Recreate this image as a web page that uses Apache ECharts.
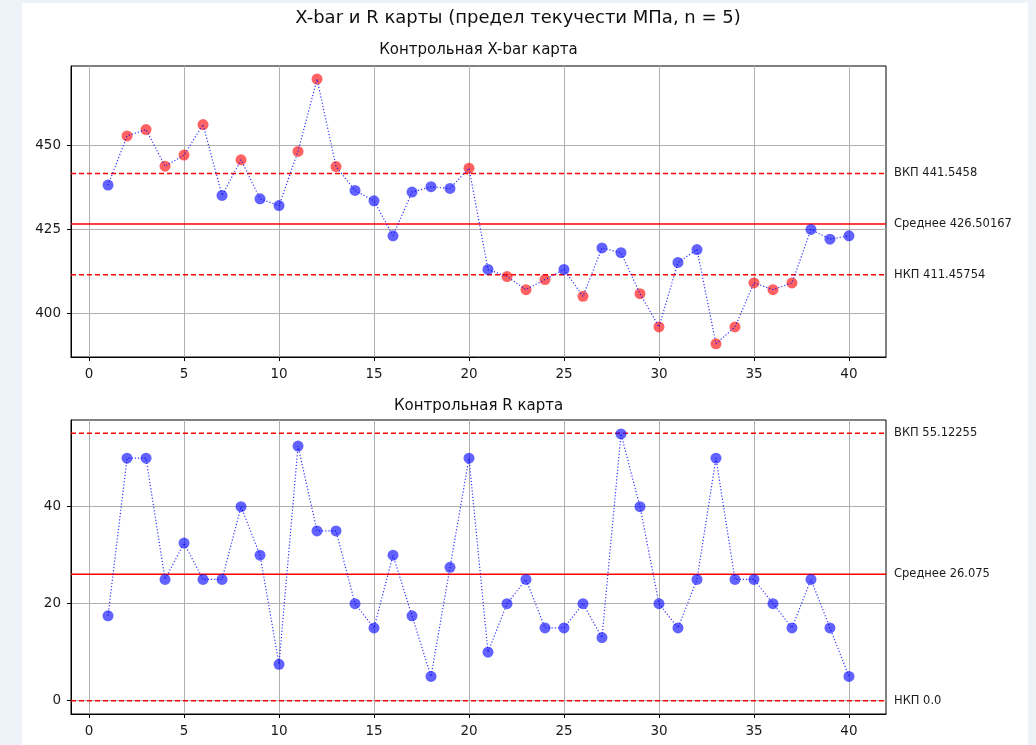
<!DOCTYPE html>
<html>
<head>
<meta charset="utf-8">
<script src="https://cdn.jsdelivr.net/npm/echarts@6/dist/echarts.min.js"></script>
<style>
html,body{margin:0;padding:0;width:1036px;height:745px;background:#eef3fa;overflow:hidden;}
#c{position:absolute;left:22px;top:3px;width:1006px;height:742px;background:#fff;}
</style>
</head>
<body>
<div id="c"></div>
<script>
// ---- data ----
const samples = [1,2,3,4,5,6,7,8,9,10,11,12,13,14,15,16,17,18,19,20,21,22,23,24,25,26,27,28,29,30,31,32,33,34,35,36,37,38,39,40];
const xbarValues = [438.1,452.7,454.6,443.7,447.0,456.1,435.0,445.6,434.0,432.0,
                    448.1,469.6,443.6,436.5,433.4,423.0,436.0,437.6,437.1,443.1,
                    413.0,410.9,407.0,410.0,413.0,405.0,419.4,418.0,405.8,395.9,
                    415.1,418.9,390.9,395.9,409.0,407.0,409.0,424.9,422.0,423.0];
const rangeValues = [17.5,50,50,25,32.5,25,25,40,30,7.5,
                     52.5,35,35,20,15,30,17.5,5,27.5,50,
                     10,20,25,15,15,20,13,55,40,20,
                     15,25,50,25,25,20,15,25,15,5];
const xbarUCL = 441.5458, xbarMean = 426.50167, xbarLCL = 411.45754;
const rUCL = 55.12255, rMean = 26.075, rLCL = 0.0;
const xTicks = [0,5,10,15,20,25,30,35,40];
const xbarYTicks = [400,425,450];
const rYTicks = [0,20,40];
const titleText = 'X-bar и R карты (предел текучести МПа, n = 5)';
const xbarTitle = 'Контрольная X-bar карта';
const rTitle = 'Контрольная R карта';
const xbarLabels = ['ВКП 441.5458', 'Среднее 426.50167', 'НКП 411.45754'];
const rLabels = ['ВКП 55.12255', 'Среднее 26.075', 'НКП 0.0'];

const X_MIN = -0.95, X_MAX = 41.95;
const FONT = 'DejaVu Sans';
const BLUE = 'rgba(0,0,255,0.77)';
const RED = 'rgba(255,0,0,0.77)';

function pts(vals){ return vals.map((v,i)=>[samples[i], v]); }

function xAxisCfg(gi){
  return {
    type:'value', gridIndex:gi, min:X_MIN, max:X_MAX,
    axisLine:{show:true, onZero:false, lineStyle:{color:'#000', width:1}},
    axisTick:{show:true, inside:false, length:4, customValues:xTicks, lineStyle:{color:'#000'}},
    axisLabel:{customValues:xTicks, color:'#1a1a1a', fontSize:13.5, fontFamily:FONT, margin:10},
    splitLine:{show:true, lineStyle:{color:'#b0b0b0', width:1}}
  };
}
function yAxisCfg(gi, min, max, ticks){
  return {
    type:'value', gridIndex:gi, min:min, max:max,
    axisLine:{show:true, onZero:false, lineStyle:{color:'#000', width:1}},
    axisTick:{show:true, inside:false, length:4, customValues:ticks, lineStyle:{color:'#000'}},
    axisLabel:{customValues:ticks, color:'#1a1a1a', fontSize:13.5, fontFamily:FONT, margin:10},
    splitLine:{show:true, lineStyle:{color:'#b0b0b0', width:1}}
  };
}
function limitSeries(gi, value, label, solid){
  return {
    type:'line', xAxisIndex:gi, yAxisIndex:gi, symbol:'none', showSymbol:false, silent:true, z:2,
    clip:false,
    data:[[X_MIN, value],[X_MAX, value]],
    lineStyle:{color:'#ff0000', width:1.5, type: solid ? 'solid' : [5,3]},
    endLabel:{show:true, formatter:label, distance:8, color:'#1a1a1a', fontSize:11.5, fontFamily:FONT}
  };
}

const chart = echarts.init(document.getElementById('c'), null, {renderer:'canvas'});
chart.setOption({
  animation:false,
  backgroundColor:'#fff',
  textStyle:{fontFamily:FONT},
  graphic:[
    {type:'text', x:496, y:15, style:{text:titleText, fontSize:18, fontFamily:FONT, fill:'#111', align:'center', verticalAlign:'middle'}},
    {type:'text', x:456.5, y:47, style:{text:xbarTitle, fontSize:15, fontFamily:FONT, fill:'#111', align:'center', verticalAlign:'middle'}},
    {type:'text', x:456.5, y:403, style:{text:rTitle, fontSize:15, fontFamily:FONT, fill:'#111', align:'center', verticalAlign:'middle'}}
  ],
  grid:[
    {left:49, right:142, top:63, height:291, show:true, borderColor:'#000', borderWidth:1, backgroundColor:'transparent'},
    {left:49, right:142, top:417, height:294, show:true, borderColor:'#000', borderWidth:1, backgroundColor:'transparent'}
  ],
  xAxis:[xAxisCfg(0), xAxisCfg(1)],
  yAxis:[yAxisCfg(0, 386.97, 473.5, xbarYTicks), yAxisCfg(1, -2.756, 57.88, rYTicks)],
  series:[
    limitSeries(0, xbarUCL, xbarLabels[0], false),
    limitSeries(0, xbarMean, xbarLabels[1], true),
    limitSeries(0, xbarLCL, xbarLabels[2], false),
    limitSeries(1, rUCL, rLabels[0], false),
    limitSeries(1, rMean, rLabels[1], true),
    limitSeries(1, rLCL, rLabels[2], false),
    {type:'scatter', xAxisIndex:0, yAxisIndex:0, symbolSize:11, z:3,
     data:pts(xbarValues),
     itemStyle:{color:(p)=> (p.value[1] > xbarUCL || p.value[1] < xbarLCL) ? RED : BLUE}},
    {type:'line', xAxisIndex:0, yAxisIndex:0, showSymbol:false, symbol:'none', z:4,
     data:pts(xbarValues), lineStyle:{color:'rgba(0,0,255,0.8)', width:1.2, type:[1.2,2]}},
    {type:'scatter', xAxisIndex:1, yAxisIndex:1, symbolSize:11, z:3,
     data:pts(rangeValues),
     itemStyle:{color:(p)=> (p.value[1] > rUCL || p.value[1] < rLCL) ? RED : BLUE}},
    {type:'line', xAxisIndex:1, yAxisIndex:1, showSymbol:false, symbol:'none', z:4,
     data:pts(rangeValues), lineStyle:{color:'rgba(0,0,255,0.8)', width:1.2, type:[1.2,2]}}
  ]
});
</script>
</body>
</html>
